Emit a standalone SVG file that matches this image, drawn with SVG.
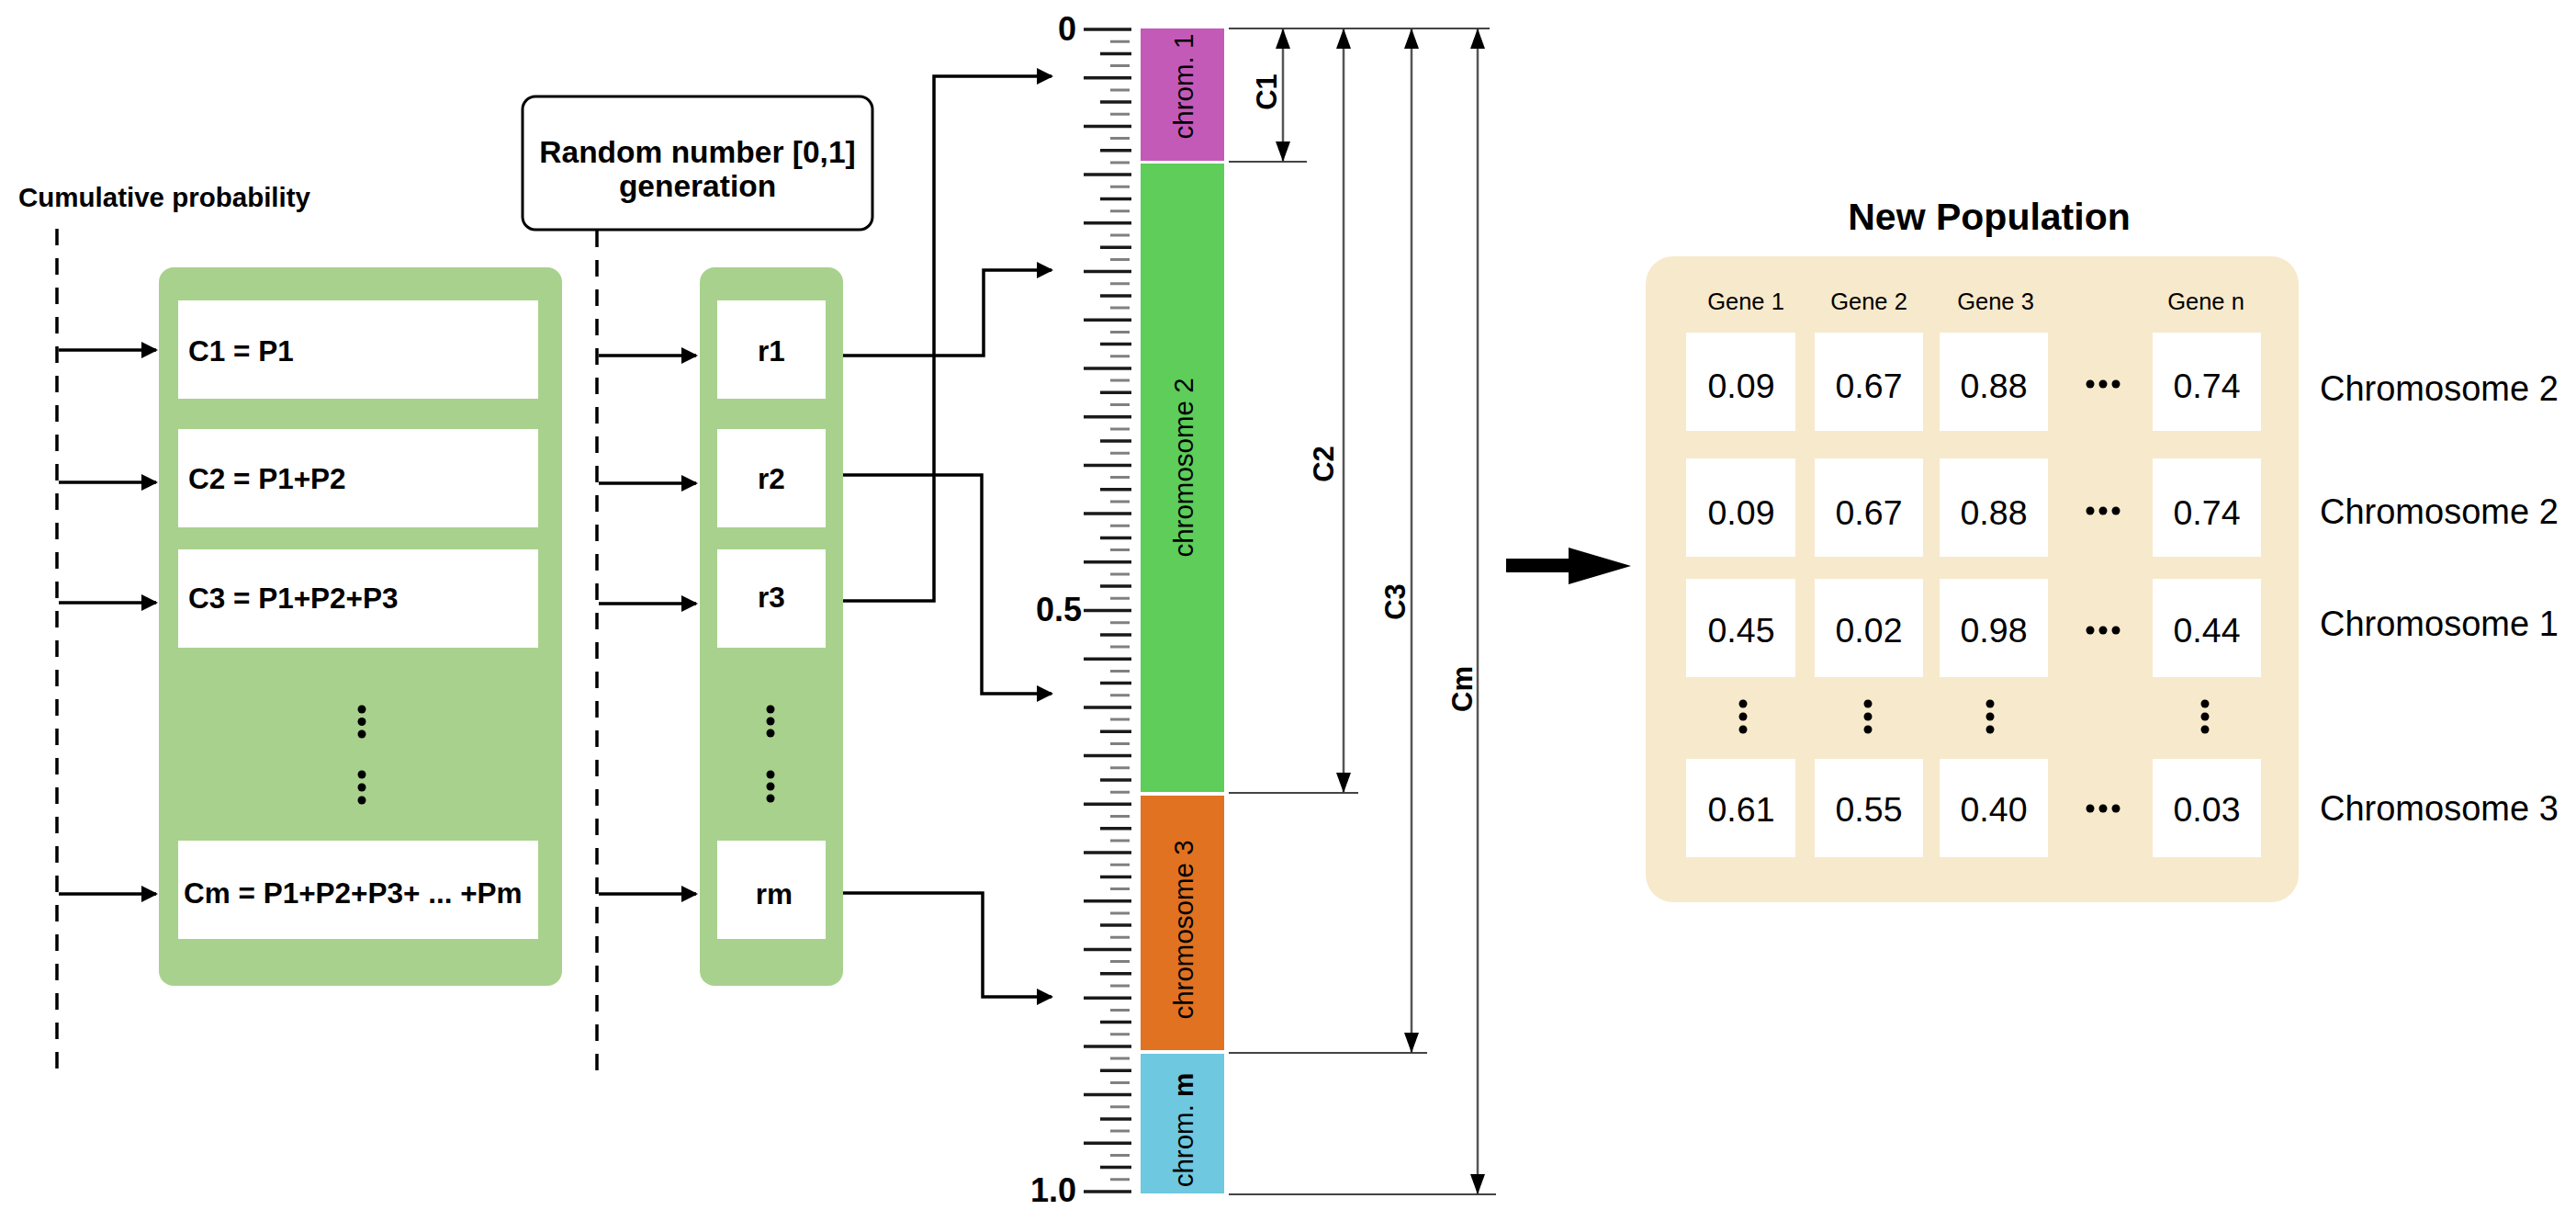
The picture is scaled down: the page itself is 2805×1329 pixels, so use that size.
<svg xmlns="http://www.w3.org/2000/svg" width="2805" height="1329" viewBox="0 0 2805 1329">
<style>
text{font-family:'Liberation Sans',Arial,sans-serif;fill:#000}
.b{font-weight:bold}
.box{font-weight:bold;font-size:31.5px}
.chl{font-size:29.5px}
.dim{font-weight:bold;font-size:31px}
.val{font-size:37.5px;text-anchor:middle}
.gene{font-size:25.5px;text-anchor:middle}
.row{font-size:38px}
.panel{fill:#a9d18e}
.wb{fill:#fff}
.dash{stroke:#000;stroke-width:3.5;stroke-dasharray:18 14;fill:none}
.conn{stroke:#000;stroke-width:3.5;fill:none;marker-end:url(#ah)}
.dl{stroke:#555;stroke-width:2.5;fill:none;marker-start:url(#dh);marker-end:url(#dh)}
.hl{stroke:#444;stroke-width:2;fill:none}
</style>
<defs>
<marker id="ah" markerUnits="userSpaceOnUse" markerWidth="18" markerHeight="18" viewBox="0 0 18 18" refX="16" refY="9" orient="auto"><path d="M0,0 L18,9 L0,18 Z" fill="#000"/></marker>
<marker id="dh" markerUnits="userSpaceOnUse" markerWidth="22" markerHeight="16" viewBox="0 0 22 16" refX="21" refY="8" orient="auto-start-reverse"><path d="M0,0 L22,8 L0,16 Z" fill="#000"/></marker>
</defs>
<rect x="0" y="0" width="2805" height="1329" fill="#fff"/>

<g id="guides">
<text class="b" x="20" y="225" font-size="29.5">Cumulative probability</text>
<line class="dash" x1="62" y1="249" x2="62" y2="1166"/>
<line class="dash" x1="650" y1="251" x2="650" y2="1166"/>
</g>

<g id="cum-panel">
<rect class="panel" x="173" y="291" width="439" height="782" rx="16"/>
<rect class="wb" x="194" y="327" width="392" height="107"/>
<rect class="wb" x="194" y="467" width="392" height="107"/>
<rect class="wb" x="194" y="598" width="392" height="107"/>
<rect class="wb" x="194" y="915" width="392" height="107"/>
<text class="box" x="205" y="393">C1 = P1</text>
<text class="box" x="205" y="532">C2 = P1+P2</text>
<text class="box" x="205" y="662">C3 = P1+P2+P3</text>
<text class="box" x="200" y="983">Cm = P1+P2+P3+ ... +Pm</text>
<g fill="#000">
<circle cx="394" cy="772" r="4.5"/><circle cx="394" cy="785.5" r="4.5"/><circle cx="394" cy="799" r="4.5"/>
<circle cx="394" cy="843" r="4.5"/><circle cx="394" cy="857" r="4.5"/><circle cx="394" cy="871" r="4.5"/>
</g>
</g>

<g id="rand-gen">
<rect x="569" y="105" width="381" height="145" rx="14" fill="#fff" stroke="#000" stroke-width="3"/>
<text class="b" x="759.5" y="177" font-size="33.5" text-anchor="middle">Random number [0,1]</text>
<text class="b" x="759.5" y="214" font-size="33.5" text-anchor="middle">generation</text>
</g>

<g id="rand-panel">
<rect class="panel" x="762" y="291" width="156" height="782" rx="16"/>
<rect class="wb" x="781" y="327" width="118" height="107"/>
<rect class="wb" x="781" y="467" width="118" height="107"/>
<rect class="wb" x="781" y="598" width="118" height="107"/>
<rect class="wb" x="781" y="915" width="118" height="107"/>
<text class="box" x="840" y="393" text-anchor="middle">r1</text>
<text class="box" x="840" y="532" text-anchor="middle">r2</text>
<text class="box" x="840" y="661" text-anchor="middle">r3</text>
<text class="box" x="843" y="984" text-anchor="middle">rm</text>
<g fill="#000">
<circle cx="839" cy="772" r="4.5"/><circle cx="839" cy="785" r="4.5"/><circle cx="839" cy="798" r="4.5"/>
<circle cx="839" cy="843" r="4.5"/><circle cx="839" cy="856" r="4.5"/><circle cx="839" cy="869" r="4.5"/>
</g>
</g>

<g id="ruler">
<path stroke="#1a1a1a" stroke-width="3.5" fill="none" d="M1180,32H1232M1180,84.7H1232M1180,137.4H1232M1180,190.1H1232M1180,242.8H1232M1180,295.5H1232M1180,348.3H1232M1180,401H1232M1180,453.7H1232M1180,506.4H1232M1180,559.1H1232M1180,611.8H1232M1180,664.5H1232M1180,717.2H1232M1180,769.9H1232M1180,822.6H1232M1180,875.3H1232M1180,928H1232M1180,980.8H1232M1180,1033.5H1232M1180,1086.2H1232M1180,1138.9H1232M1180,1191.6H1232M1180,1244.3H1232M1180,1297H1232"/>
<path stroke="#1a1a1a" stroke-width="3.5" fill="none" d="M1198,58.4H1232M1198,111.1H1232M1198,163.8H1232M1198,216.5H1232M1198,269.2H1232M1198,321.9H1232M1198,374.6H1232M1198,427.3H1232M1198,480H1232M1198,532.7H1232M1198,585.4H1232M1198,638.1H1232M1198,690.9H1232M1198,743.6H1232M1198,796.3H1232M1198,849H1232M1198,901.7H1232M1198,954.4H1232M1198,1007.1H1232M1198,1059.8H1232M1198,1112.5H1232M1198,1165.2H1232M1198,1217.9H1232M1198,1270.6H1232"/>
<path stroke="#808080" stroke-width="3" fill="none" d="M1209,45.2H1230M1209,71.5H1230M1209,97.9H1230M1209,124.2H1230M1209,150.6H1230M1209,177H1230M1209,203.3H1230M1209,229.7H1230M1209,256H1230M1209,282.4H1230M1209,308.7H1230M1209,335.1H1230M1209,361.4H1230M1209,387.8H1230M1209,414.1H1230M1209,440.5H1230M1209,466.9H1230M1209,493.2H1230M1209,519.6H1230M1209,545.9H1230M1209,572.3H1230M1209,598.6H1230M1209,625H1230M1209,651.3H1230M1209,677.7H1230M1209,704H1230M1209,730.4H1230M1209,756.7H1230M1209,783.1H1230M1209,809.5H1230M1209,835.8H1230M1209,862.2H1230M1209,888.5H1230M1209,914.9H1230M1209,941.2H1230M1209,967.6H1230M1209,993.9H1230M1209,1020.3H1230M1209,1046.6H1230M1209,1073H1230M1209,1099.4H1230M1209,1125.7H1230M1209,1152.1H1230M1209,1178.4H1230M1209,1204.8H1230M1209,1231.1H1230M1209,1257.5H1230M1209,1283.8H1230"/>
<text class="b" x="1172" y="44" font-size="36" text-anchor="end">0</text>
<text class="b" x="1178" y="676" font-size="36" text-anchor="end">0.5</text>
<text class="b" x="1172" y="1308" font-size="36" text-anchor="end">1.0</text>
</g>

<g id="chrom-bar">
<rect x="1242" y="31" width="91" height="144" fill="#c45ab8"/>
<rect x="1242" y="178" width="91" height="684" fill="#5ecd5a"/>
<rect x="1242" y="866" width="91" height="277" fill="#e07222"/>
<rect x="1242" y="1147" width="91" height="152" fill="#6ec8df"/>
<text class="chl" transform="translate(1299,94) rotate(-90)" text-anchor="middle">chrom. 1</text>
<text class="chl" transform="translate(1299,509) rotate(-90)" text-anchor="middle">chromosome 2</text>
<text class="chl" transform="translate(1299,1012) rotate(-90)" text-anchor="middle">chromosome 3</text>
<text class="chl" transform="translate(1299,1230) rotate(-90)" text-anchor="middle">chrom. <tspan font-weight="bold">m</tspan></text>
</g>

<g id="dimensions">
<path class="hl" d="M1338,31H1622M1338,176H1423M1338,863H1479M1338,1146H1554M1338,1300H1629"/>
<line class="dl" x1="1397" y1="32" x2="1397" y2="175"/>
<line class="dl" x1="1463" y1="32" x2="1463" y2="862"/>
<line class="dl" x1="1537" y1="32" x2="1537" y2="1145"/>
<line class="dl" x1="1609" y1="32" x2="1609" y2="1299"/>
<text class="dim" transform="translate(1390,100) rotate(-90)" text-anchor="middle">C1</text>
<text class="dim" transform="translate(1452,505) rotate(-90)" text-anchor="middle">C2</text>
<text class="dim" transform="translate(1530,655) rotate(-90)" text-anchor="middle">C3</text>
<text class="dim" transform="translate(1603,750) rotate(-90)" text-anchor="middle">Cm</text>
</g>

<g id="connectors">
<path class="conn" d="M64,381H170"/>
<path class="conn" d="M64,525H170"/>
<path class="conn" d="M64,656H170"/>
<path class="conn" d="M64,973H170"/>
<path class="conn" d="M652,387H758"/>
<path class="conn" d="M652,526H758"/>
<path class="conn" d="M652,657H758"/>
<path class="conn" d="M652,973H758"/>
<path class="conn" d="M918,387H1071V294H1145"/>
<path class="conn" d="M918,517H1069V755H1145"/>
<path class="conn" d="M918,654H1017V83H1145"/>
<path class="conn" d="M918,972H1070V1085H1145"/>
<path d="M1640,608H1708V596L1776,616L1708,636V623H1640Z" fill="#000"/>
</g>

<g id="new-population">
<text class="b" x="2166" y="250" font-size="41" text-anchor="middle">New Population</text>
<rect x="1792" y="279" width="711" height="703" rx="30" fill="#f7e9cb"/>
<text class="gene" x="1901" y="337">Gene 1</text>
<text class="gene" x="2035" y="337">Gene 2</text>
<text class="gene" x="2173" y="337">Gene 3</text>
<text class="gene" x="2402" y="337">Gene n</text>
<g fill="#fff">
<rect x="1836" y="362" width="119" height="107"/><rect x="1976" y="362" width="118" height="107"/><rect x="2112" y="362" width="118" height="107"/><rect x="2344" y="362" width="118" height="107"/>
<rect x="1836" y="499" width="119" height="107"/><rect x="1976" y="499" width="118" height="107"/><rect x="2112" y="499" width="118" height="107"/><rect x="2344" y="499" width="118" height="107"/>
<rect x="1836" y="630" width="119" height="107"/><rect x="1976" y="630" width="118" height="107"/><rect x="2112" y="630" width="118" height="107"/><rect x="2344" y="630" width="118" height="107"/>
<rect x="1836" y="826" width="119" height="107"/><rect x="1976" y="826" width="118" height="107"/><rect x="2112" y="826" width="118" height="107"/><rect x="2344" y="826" width="118" height="107"/>
</g>
<text class="val" x="1896" y="433">0.09</text><text class="val" x="2035" y="433">0.67</text><text class="val" x="2171" y="433">0.88</text><text class="val" x="2403" y="433">0.74</text>
<text class="val" x="1896" y="571">0.09</text><text class="val" x="2035" y="571">0.67</text><text class="val" x="2171" y="571">0.88</text><text class="val" x="2403" y="571">0.74</text>
<text class="val" x="1896" y="699">0.45</text><text class="val" x="2035" y="699">0.02</text><text class="val" x="2171" y="699">0.98</text><text class="val" x="2403" y="699">0.44</text>
<text class="val" x="1896" y="894">0.61</text><text class="val" x="2035" y="894">0.55</text><text class="val" x="2171" y="894">0.40</text><text class="val" x="2403" y="894">0.03</text>
<g fill="#000">
<circle cx="2276" cy="418" r="4.5"/><circle cx="2290" cy="418" r="4.5"/><circle cx="2304" cy="418" r="4.5"/>
<circle cx="2276" cy="556" r="4.5"/><circle cx="2290" cy="556" r="4.5"/><circle cx="2304" cy="556" r="4.5"/>
<circle cx="2276" cy="686" r="4.5"/><circle cx="2290" cy="686" r="4.5"/><circle cx="2304" cy="686" r="4.5"/>
<circle cx="2276" cy="880" r="4.5"/><circle cx="2290" cy="880" r="4.5"/><circle cx="2304" cy="880" r="4.5"/>
<circle cx="1898" cy="766" r="4.5"/><circle cx="1898" cy="780" r="4.5"/><circle cx="1898" cy="794" r="4.5"/>
<circle cx="2034" cy="766" r="4.5"/><circle cx="2034" cy="780" r="4.5"/><circle cx="2034" cy="794" r="4.5"/>
<circle cx="2167" cy="766" r="4.5"/><circle cx="2167" cy="780" r="4.5"/><circle cx="2167" cy="794" r="4.5"/>
<circle cx="2401" cy="766" r="4.5"/><circle cx="2401" cy="780" r="4.5"/><circle cx="2401" cy="794" r="4.5"/>
</g>
<text class="row" x="2526" y="436">Chromosome 2</text>
<text class="row" x="2526" y="570">Chromosome 2</text>
<text class="row" x="2526" y="692">Chromosome 1</text>
<text class="row" x="2526" y="893">Chromosome 3</text>
</g>
</svg>
